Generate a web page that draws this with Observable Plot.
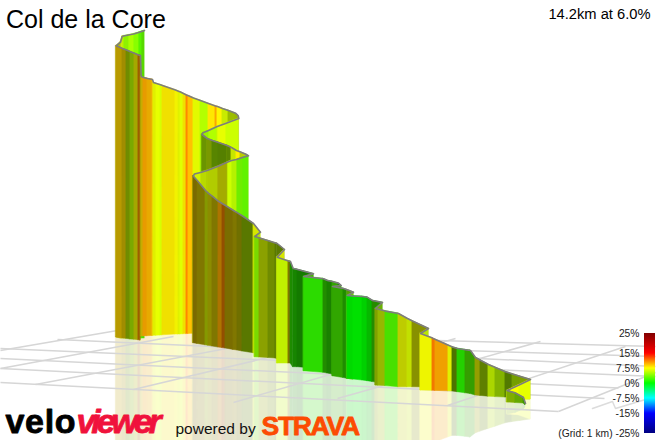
<!DOCTYPE html>
<html>
<head>
<meta charset="utf-8">
<script src="https://cdn.jsdelivr.net/npm/d3@7"></script>
<script src="https://cdn.jsdelivr.net/npm/@observablehq/plot@0.6"></script>
<style>
html,body{margin:0;padding:0;background:#fff;}
#wrap{position:relative;width:656px;height:440px;overflow:hidden;}
#legend{position:absolute;left:530px;top:323px;}
.logo-a{letter-spacing:0.7px;}
.logo-b{letter-spacing:-4.1px;}
.logo-s{letter-spacing:-1.3px;}
</style>
</head>
<body>
<div id="wrap"><div id="main"></div><div id="legend"></div></div>
<script>
// Ribbon rows: [x, top, base, grade %, shade]; each row colours the stretch up to the next row.
const runBackTop = [
 [144,30,338,3,.85],[141,31,338,2.8,.95],[138,32,338,4,1],[133,33.5,338,5,1],[128,34.5,338,4.4,.95],
 [123,35.5,338,6,.95],[121.7,36,338,6.5,.9],[120,41.7,338,7,.75]
];
const runFrontTop = [
 [115.7,45.3,337,8.7,.72],[122,48,338,8.4,.63],[126,49.6,338.3,6,.55],[130,51.2,339,5.5,.66],
 [134,52.8,339.2,7.3,.66],[138,54.4,339.7,10.5,.62],[140,55,340,8,.6]
];
const runLit = [
 [140.7,76,336,8.5,.78],[143,77,335.9,10,.91],[147,78,335.7,9.5,.91],[152,79,335.4,8.7,.94],[153,82,335.3,7,.94],
 [156,83,335.2,6.8,1],[160,84.3,335,6.3,1],[162,85,334.8,8,.94],[175,89.5,334,7.5,.95],[178,90.7,334,7,.94],
 [180,91.5,333.9,6.6,1],[183,93,333.7,8,.94],[186,94.5,333.6,11,1],[188,95.3,333.5,9.3,1],[193,97.5,333.3,6.8,.98],
 [200,100,333,5.3,1],[208,103,332.5,8.2,1],[215,105.5,332,10,.98],[217,106,331.9,7.8,1],[222,108,331.5,6.4,.92],
 [228,110,331,6.2,.74],[235,112.7,330.4,6.2,.72],[237.6,115,330.2,6.2,.72]
];
const runFoldBack = [
 [238.3,118,330,6,1],[225,123,331.5,6.8,1],[216.7,126,332.3,5.2,1],[208,130,333.2,4.8,.95],[202.5,132.2,334,5,.8]
];
const runDarkFold = [
 [201.5,134,334,5.4,.58],[206.7,138,333.5,6,.6],[212,140,333,5,.52],[218,142,332.5,5,.5],[226.7,145,332,5.2,.52],
 [231,147,331.5,6.5,.9],[236,150,331,8,1],[240,151.5,330.5,7,.8],[246,154,330.1,6,.8]
];
const runLitFold = [
 [248,155.3,330,3,.95],[242,157,330.5,3.5,.93],[236,159,331,5.6,.95],[231,160,331.5,6,1],[226.7,161.7,332,7.2,.67],
 [217,166,333,6.5,.8],[206.7,170,333.6,6.4,.85],[200,172,334,6.6,.94],[194,173.6,334.3,6.6,.9]
];
const runLower = [
 [192.7,175.5,342.7,8.5,.48],[197,180.3,343.4,8,.5],[205,190,344.8,6.5,.6],[208,192.8,345.3,7.5,.55],[212,195.8,346,8,.5],
 [218,200.8,347,10,.68],[222,203.3,347.6,11,.58],[225,205,348,8.3,.48],[233,210,349.4,8,.5],[237,212.4,350,7.5,.44],
 [242,215.5,351,5.6,.47],[253,223,352.7,7,.9],[260,231.7,354,6,.9],[254.3,236,356.7,4.2,.85],[259,237.5,357,6.5,.63],
 [268,240.3,357.5,6,.55],[275,242.5,358,5.6,.48],[276.7,243,358.5,5.6,.48],[284,249,360.5,7,.9],[276.7,256.7,363,6,.94],
 [288,260.4,363,8,.5],[290,261,363,1.6,.55],[292.7,268,366.7,1.3,.52],[297,269,366.7,1.2,.48],[313,273.3,368,3,.7],
 [303.3,276,370.7,1.5,.86],[323,278.2,372.3,1.8,.55],[327,280,373,1.5,.5],[332,281,374,2.2,.65],[338,282.7,374.5,1.5,.5],
 [340.7,285,375,3,.7],[332,286,375.7,2.2,.65],[343,288,377.5,1.7,.55],[346.7,289.3,378.3,4,.62],[353,291.7,379,4,.8],
 [346.7,295,378.3,0,.85],[353,295.5,379,0,.88],[362,296,380,0,.82],[367,296.8,380.7,.3,.72],[372,300,381.5,2,.55],
 [382,302,383,4.5,.7],[375,308,385,6,.63],[378,308.8,385.2,6.1,.72],[385,310.6,385.6,2.4,.88],[398,313,386.7,7,.8],
 [407,318,386.7,6.5,.88],[412,320.5,386.7,7,.57],[428,328,387,6,.9]
];
const runLowerEnd = [
 [420,333,390,7.3,.96],[432,337.6,390.3,11.3,.95],[435,339,390.4,10,.94],[448,344.8,390.8,7,.94],[452,346.6,391,5,.45],
 [457,348,391.7,1.3,.82],[465,349.3,392.8,2.5,.62],[470,350,393.5,2.5,.62],[475,357,395,7,.62],[480,359.7,395.4,5.6,.5],
 [488,364,396.2,6,.84],[495,367,396.6,5.5,.7],[505,371.2,397,5,.48],[512,373.5,397.5,5.5,.62],[520,376,398.2,6,.62],
 [530,379,399,6.8,1],[518,384.7,399.7,7.3,1]
];
const runTail = [
 [506.5,390,402,5.5,.68],[515,392.5,402.5,4.5,.66],[523,397,403,3,.6],[525,403,405,1,.6]
];

// Floor grid, 1 km squares as seen in the picture: [x1, y1, x2, y2]
const gridLines = [
 [57,339,655,366],[0,348,655,376],[0,358,618,387.5],[0,368,604,398],[0,382,558,411],
 [437,340,655,346],[300,345,655,356],
 [0,350,117,330],[0,368,173,336],[35,384,300,334],[133,389,360,335],[233,402,455,338],
 [337,398,540,341],[447,405,625,346],[558,411,655,372]
];
const miniMapX = [592,612,615,645];
const miniMapY = [408,401,408,399];

const gradeStops = [-25,-15,-7.5,0,7.5,15,25];
const gradeColors = ["#000080","#0000ff","#00ffff","#00ff00","#ffff00","#ff0000","#800000"];
const legendTicks = [25,15,7.5,0,-7.5,-15,-25];
const legendSteps = d3.range(-25,25,0.5);

const titleText = "Col de la Core";
const statText = "14.2km at 6.0%";

const gradeColor = d3.scaleLinear().domain(gradeStops).range(gradeColors).interpolate(d3.interpolateRgb);
const shaded = (g,s)=>{const c=d3.rgb(gradeColor(g));return d3.rgb(c.r*s,c.g*s,c.b*s).formatHex();};
const mirror = (g,s)=>d3.color(d3.interpolateRgb(shaded(g,s),"#ffffff")(0.8)).formatHex();

const rows = [...runBackTop,...runFrontTop,...runLit,...runFoldBack,...runDarkFold,...runLitFold,...runLower,...runLowerEnd,...runTail];
const segments = [];
for(let i=0;i<rows.length-1;i++){
  const a=rows[i], b=rows[i+1];
  for(const r of [a,b]) segments.push({id:i,x:r[0],top:r[1],base:r[2],under:2*r[2]-r[1],face:shaded(a[3],a[4]),glow:mirror(a[3],a[4])});
}
const outline = rows.map(r=>({x:r[0],y:r[1]}));
const miniMap = miniMapX.map((x,i)=>({x,y:miniMapY[i]}));
const sans = "'Liberation Sans', Arial, sans-serif";

const chart = Plot.plot({
  width:656,height:440,margin:0,
  x:{domain:[0,656],range:[0,656],axis:null},
  y:{domain:[0,440],range:[0,440],axis:null},
  style:{background:"#fff"},
  marks:[
    Plot.area(segments,{x1:"x",y1:"base",y2:"under",z:"id",fill:"glow",stroke:"glow",strokeWidth:0.5}),
    Plot.link(gridLines,{x1:d=>d[0],y1:d=>d[1],x2:d=>d[2],y2:d=>d[3],stroke:"#d6d6d6",strokeWidth:1.5}),
    Plot.line(miniMap,{x:"x",y:"y",stroke:"#dcdcdc",strokeWidth:1.5}),
    Plot.area(segments,{x1:"x",y1:"top",y2:"base",z:"id",fill:"face",stroke:"face",strokeWidth:0.5}),
    Plot.line(outline,{x:"x",y:"y",stroke:"#7d7d7d",strokeWidth:1.6,strokeLinejoin:"round"}),
    Plot.text([titleText],{x:5.5,y:27,text:d=>d,textAnchor:"start",lineAnchor:"bottom",fontSize:25,fontFamily:sans,fill:"#000"}),
    Plot.text([statText],{x:650,y:18,text:d=>d,textAnchor:"end",lineAnchor:"bottom",fontSize:14.7,fontFamily:sans,fill:"#000"}),
    Plot.text(["velo"],{x:5,y:432,text:d=>d,textAnchor:"start",lineAnchor:"bottom",fontSize:34,fontWeight:700,fontFamily:sans,fill:"#000",stroke:"#000",strokeWidth:.8,className:"logo-a"}),
    Plot.text(["viewer"],{x:76,y:432,text:d=>d,textAnchor:"start",lineAnchor:"bottom",fontSize:34,fontWeight:700,fontStyle:"italic",fontFamily:sans,fill:"#f0123c",stroke:"#f0123c",strokeWidth:.8,className:"logo-b"}),
    Plot.text(["powered by"],{x:175,y:433,text:d=>d,textAnchor:"start",lineAnchor:"bottom",fontSize:15.5,fontFamily:sans,fill:"#111"}),
    Plot.text(["STRAVA"],{x:261,y:434,text:d=>d,textAnchor:"start",lineAnchor:"bottom",fontSize:26.5,fontWeight:700,fontFamily:sans,fill:"#fc4c02",stroke:"#fc4c02",strokeWidth:.8,className:"logo-s"})
  ]
});
document.getElementById("main").appendChild(chart);

const legend = Plot.plot({
  width:126,height:117,marginLeft:114,marginRight:1,marginTop:10,marginBottom:7,
  style:{background:"transparent"},
  x:{domain:[0,1],axis:null},
  y:{domain:[-25,25],axis:null},
  marks:[
    Plot.rect(legendSteps,{x1:0,x2:1,y1:d=>d,y2:d=>d+0.5,fill:d=>gradeColor(d+0.25)}),
    Plot.axisY(legendTicks,{anchor:"left",tickSize:0,tickPadding:5,fontSize:10.3,fontFamily:sans,stroke:null,fill:"#222",
      tickFormat:d=>(d===-25?"(Grid: 1 km) ":"")+d+"%"})
  ]
});
document.getElementById("legend").appendChild(legend);
</script>
</body>
</html>
